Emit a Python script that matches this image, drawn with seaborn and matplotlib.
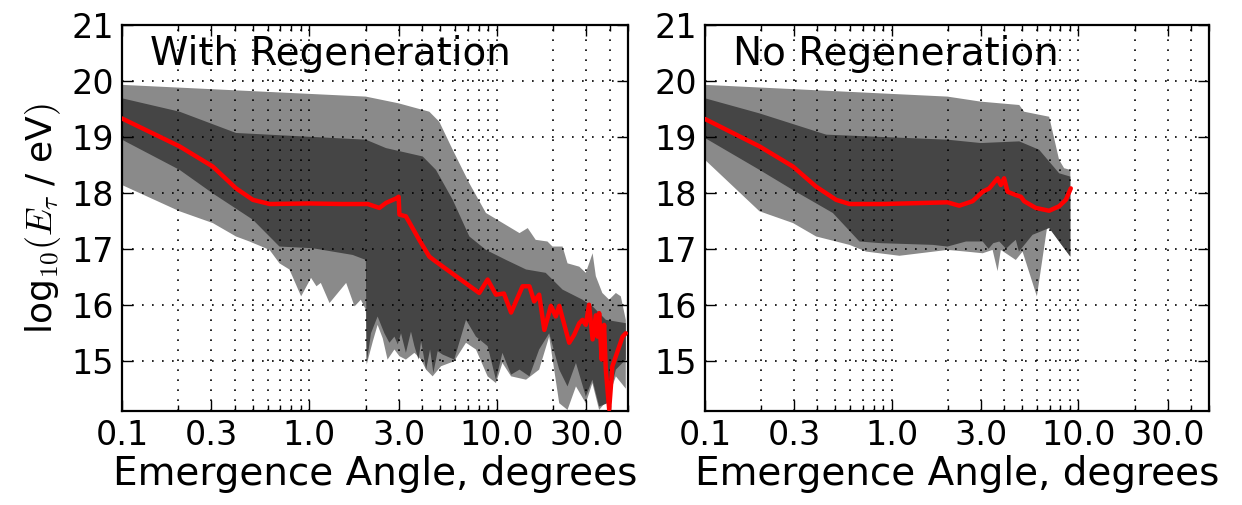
import numpy as np
import pandas as pd
import matplotlib
matplotlib.use("Agg")
import matplotlib.pyplot as plt
import matplotlib.ticker as mticker
import seaborn as sns

# ---------------- data: With Regeneration ----------------
regen_med_x = [0.1, 0.203, 0.305, 0.406, 0.499, 0.613, 1.0, 1.5, 2.05, 2.36, 2.56, 2.90, 2.99, 3.02, 3.27,
               3.85, 4.36, 4.73, 6.05, 8.05, 8.92, 9.88, 10.9, 11.9, 13.7, 14.9, 15.8, 16.8, 17.9, 19.4,
               20.6, 21.5, 24.3, 25.8, 27.5, 28.6, 29.8, 31.0, 32.4, 33.7, 34.4, 35.1, 36.2, 37.3, 38.1,
               39.7, 41.3, 43.1, 46.8, 48.7]
regen_med_y = [19.33, 18.83, 18.47, 18.08, 17.875, 17.80, 17.81, 17.80, 17.80, 17.73, 17.82, 17.90, 17.93, 17.61, 17.58,
               17.16, 16.86, 16.77, 16.51, 16.21, 16.45, 16.18, 16.20, 15.86, 16.33, 16.33, 16.06, 16.18, 15.55, 15.98,
               15.79, 15.98, 15.32, 15.46, 15.67, 15.73, 15.64, 16.00, 15.38, 15.81, 15.43, 15.85, 15.02, 15.64, 14.84,
               14.13, 14.90, 15.08, 15.43, 15.49]

regen_hi95_x = [0.1, 2.0, 2.99, 4.36, 4.93, 5.81, 7.13, 8.74, 13.2, 14.6, 16.1, 18.6, 19.8, 22.4, 23.8,
                27.5, 29.8, 32.4, 33.7, 36.5, 39.7, 43.1, 45.8, 48.7]
regen_hi95_y = [19.93, 19.72, 19.60, 19.45, 19.27, 18.77, 18.17, 17.64, 17.28, 17.37, 17.16, 17.13, 17.04, 17.04, 16.74,
                16.68, 16.57, 16.92, 16.51, 16.21, 16.09, 16.21, 16.15, 15.73]

regen_hi68_x = [0.1, 0.203, 0.406, 2.0, 2.56, 4.02, 4.73, 5.81, 7.13, 8.74, 11.2, 14.3, 18.2, 22.4, 28.6,
                32.4, 38.1, 48.7]
regen_hi68_y = [19.69, 19.45, 19.07, 18.95, 18.80, 18.65, 18.41, 17.875, 17.22, 16.98, 16.80, 16.63, 16.57, 16.27, 16.09,
                15.97, 15.73, 15.67]

regen_lo68_x = [0.1, 0.203, 0.305, 0.499, 0.692, 1.04, 1.70, 2.00, 2.02, 2.13, 2.31, 2.51, 2.67, 2.84, 2.96,
                3.08, 3.27, 3.48, 3.63, 3.82, 3.94, 4.19, 4.40, 4.58, 4.83, 5.13, 5.92, 6.84, 7.73, 8.92,
                9.88, 10.7, 11.9, 13.2, 14.9, 16.8, 19.0, 21.5, 23.8, 26.4, 29.8, 32.3, 35.1, 38.9, 43.1, 48.7]
regen_lo68_y = [18.95, 18.41, 17.99, 17.52, 17.04, 17.01, 16.89, 16.80, 14.96, 15.49, 15.79, 15.49, 15.32, 15.43, 15.29,
                15.49, 15.14, 15.52, 15.26, 15.02, 15.35, 14.84, 15.20, 14.78, 15.17, 15.11, 15.02, 15.73, 15.43, 15.26,
                14.66, 15.14, 14.75, 14.84, 14.72, 15.20, 15.49, 14.84, 14.54, 14.96, 14.36, 14.66, 14.18, 14.24, 14.84, 15.02]

regen_lo95_x = [0.1, 0.203, 0.305, 0.406, 0.479, 0.613, 0.692, 0.782, 0.903, 1.02, 1.09, 1.15, 1.28, 1.57, 1.74,
                1.88, 2.00, 2.02, 2.18, 2.31, 2.46, 2.61, 2.84, 3.02, 3.27, 3.63, 3.94, 4.19, 4.54, 5.03,
                5.92, 6.84, 7.73, 8.92, 9.88, 10.7, 11.9, 14.3, 16.8, 19.0, 21.5, 23.8, 26.4, 29.8, 32.3,
                35.1, 38.9, 43.1, 48.7]
regen_lo95_y = [18.14, 17.67, 17.46, 17.22, 17.13, 16.98, 16.74, 16.63, 16.15, 16.48, 16.33, 16.39, 16.03, 16.39, 15.97,
                16.09, 15.91, 14.93, 15.35, 15.64, 15.40, 15.02, 15.20, 15.08, 15.02, 15.14, 15.02, 14.84, 14.72, 14.90,
                14.99, 15.32, 15.20, 14.72, 14.60, 14.96, 14.72, 14.66, 14.84, 15.43, 14.24, 14.12, 14.54, 14.24, 14.60,
                14.12, 14.30, 14.72, 14.50]

# ---------------- data: No Regeneration ----------------
noreg_med_x = [0.1, 0.196, 0.296, 0.394, 0.504, 0.594, 0.895, 1.99, 2.30, 2.71, 3.07, 3.33, 3.69, 3.84, 4.00,
               4.17, 4.62, 4.92, 5.12, 5.91, 6.97, 7.88, 8.56, 9.10]
noreg_med_y = [19.32, 18.83, 18.47, 18.11, 17.875, 17.80, 17.80, 17.83, 17.77, 17.85, 18.02, 18.08, 18.26, 18.14, 18.26,
               18.02, 17.96, 17.93, 17.85, 17.73, 17.68, 17.76, 17.875, 18.08]

noreg_hi95_x = [0.1, 1.99, 3.00, 4.82, 5.12, 6.97, 7.88, 8.38, 9.05]
noreg_hi95_y = [19.93, 19.72, 19.63, 19.57, 19.45, 19.36, 18.59, 18.44, 18.41]

noreg_hi68_x = [0.1, 0.196, 0.446, 1.99, 3.00, 4.82, 6.16, 7.88, 9.05]
noreg_hi68_y = [19.69, 19.42, 19.04, 18.95, 18.89, 18.92, 18.77, 18.35, 18.29]

noreg_lo68_x = [0.1, 0.196, 0.296, 0.484, 0.672, 0.877, 1.66, 1.99, 2.50, 3.07, 3.30, 3.50, 3.77, 4.10, 4.40,
                4.62, 4.80, 5.68, 6.97, 7.88, 9.05]
noreg_lo68_y = [18.98, 18.41, 18.05, 17.64, 17.13, 17.10, 17.07, 17.04, 17.13, 17.13, 17.00, 17.10, 17.13, 17.00, 17.10,
                17.16, 16.95, 17.25, 17.37, 17.13, 16.86]

noreg_lo95_x = [0.1, 0.196, 0.296, 0.394, 0.594, 0.729, 1.10, 1.99, 2.50, 3.07, 3.47, 3.69, 3.84, 4.62, 5.02,
                5.99, 6.83, 7.88, 9.05]
noreg_lo95_y = [18.59, 17.67, 17.46, 17.22, 17.07, 16.95, 16.875, 16.98, 16.95, 16.92, 16.98, 16.60, 16.98, 16.80, 16.95,
                16.15, 17.43, 17.13, 16.86]

panel_titles = ["With Regeneration", "No Regeneration"]
xtick_vals = [0.1, 0.3, 1.0, 3.0, 10.0, 30.0]
xtick_labels = ["0.1", "0.3", "1.0", "3.0", "10.0", "30.0"]
ytick_vals = [15, 16, 17, 18, 19, 20, 21]

# ---------------- style ----------------
sns.set_theme(style="ticks")
plt.rcParams["font.family"] = ["DejaVu Sans"]
plt.rcParams["mathtext.fontset"] = "cm"
for k in ["text.color", "axes.labelcolor", "xtick.color", "ytick.color", "axes.edgecolor"]:
    plt.rcParams[k] = "black"

LIGHT = "#8a8a8a"
DARK = "#454545"
GRID_LS = (0, (1, 5))


def band(ax, lo_x, lo_y, hi_x, hi_y, color):
    xs = list(hi_x) + list(lo_x)[::-1]
    ys = list(hi_y) + list(lo_y)[::-1]
    ax.fill(xs, ys, color=color, lw=0, zorder=1)


fig = plt.figure(figsize=(12.42, 5.05), dpi=100)
ax1 = fig.add_axes([0.0982, 0.1861, 0.4074, 0.7644])
ax2 = fig.add_axes([0.5676, 0.1861, 0.4058, 0.7644])

panels = [
    (ax1, regen_lo95_x, regen_lo95_y, regen_hi95_x, regen_hi95_y,
     regen_lo68_x, regen_lo68_y, regen_hi68_x, regen_hi68_y, regen_med_x, regen_med_y),
    (ax2, noreg_lo95_x, noreg_lo95_y, noreg_hi95_x, noreg_hi95_y,
     noreg_lo68_x, noreg_lo68_y, noreg_hi68_x, noreg_hi68_y, noreg_med_x, noreg_med_y),
]

for i, (ax, l95x, l95y, h95x, h95y, l68x, l68y, h68x, h68y, mx, my) in enumerate(panels):
    ax.set_xscale("log")
    band(ax, l95x, l95y, h95x, h95y, LIGHT)
    band(ax, l68x, l68y, h68x, h68y, DARK)
    df = pd.DataFrame({"angle": mx, "logE": my})
    sns.lineplot(data=df, x="angle", y="logE", ax=ax, color="red", lw=3.2,
                 sort=False, estimator=None, zorder=3)
    ax.set_xlim(0.1, 50)
    ax.set_ylim(14.1, 21)
    ax.xaxis.set_major_locator(mticker.FixedLocator(xtick_vals))
    ax.xaxis.set_major_formatter(mticker.FixedFormatter(xtick_labels))
    ax.xaxis.set_minor_locator(mticker.LogLocator(base=10, subs=np.arange(2, 10)))
    ax.xaxis.set_minor_formatter(mticker.NullFormatter())
    ax.set_yticks(ytick_vals)
    ax.grid(True, which="both", axis="x", color="black", ls=GRID_LS, lw=1.2, zorder=4)
    ax.grid(True, which="major", axis="y", color="black", ls=GRID_LS, lw=1.2, zorder=4)
    ax.set_axisbelow(False)
    ax.tick_params(which="both", direction="in", top=True, right=True, colors="black")
    ax.tick_params(which="major", length=8, width=1, labelsize=24, pad=6)
    ax.tick_params(which="minor", length=4, width=1)
    for s in ax.spines.values():
        s.set_linewidth(1.6)
        s.set_color("black")
    ax.set_xlabel("Emergence Angle, degrees", fontsize=28, labelpad=2)
    ax.set_ylabel("")
    ax.text(0.055, 0.975, panel_titles[i], transform=ax.transAxes, fontsize=28,
            ha="left", va="top", zorder=5)

ax1.set_ylabel(r"$\mathregular{log}_{10}(E_\tau\ \mathregular{/\ eV})$", fontsize=26, labelpad=6)

fig.savefig("out.png", dpi=100)
